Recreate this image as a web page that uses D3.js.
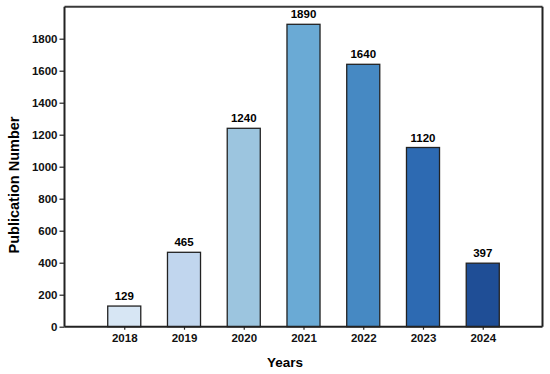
<!DOCTYPE html>
<html>
<head>
<meta charset="utf-8">
<script src="https://cdn.jsdelivr.net/npm/d3@7"></script>
<style>
  body { margin: 0; background: #fff; }
  svg { display: block; font-family: Arial, "Liberation Sans", sans-serif; }
</style>
</head>
<body>
<div id="graph"></div>
<script>
// publications per year
var years = ["2018", "2019", "2020", "2021", "2022", "2023", "2024"];
var counts = [129, 465, 1240, 1890, 1640, 1120, 397];
var barColors = ["#d7e6f4", "#c1d6ee", "#9cc5df", "#6aaad5", "#4689c3", "#2d6ab2", "#1f4e96"];
var yTicks = [0, 200, 400, 600, 800, 1000, 1200, 1400, 1600, 1800];

var width = 550;
var height = 374;
var plotLeft = 64.5, plotRight = 542.5, plotTop = 6.7, plotBottom = 326.7;

var svg = d3.select("#graph").
append("svg").
attr("width", width).
attr("height", height);

var xScale = d3.scalePoint().
domain(years).
range([plotLeft, plotRight]).
padding(1);

var yScale = d3.scaleLinear().
domain([0, 2000]).
range([plotBottom, plotTop]);

var barWidth = xScale.step() * 0.553;

svg.selectAll("rect.bar").
data(counts).
enter().
append("rect").
attr("class", "bar").
attr("x", function (d, i) {return xScale(years[i]) - barWidth / 2;}).
attr("y", function (d) {return yScale(d);}).
attr("width", barWidth).
attr("height", function (d) {return plotBottom - yScale(d);}).
attr("fill", function (d, i) {return barColors[i];}).
attr("stroke", "#222").
attr("stroke-width", 1.3);

svg.selectAll("text.value").
data(counts).
enter().
append("text").
attr("class", "value").
attr("x", function (d, i) {return xScale(years[i]);}).
attr("y", function (d) {return yScale(d) - 6;}).
style("text-anchor", "middle").
style("font-size", "11.5px").
style("font-weight", "bold").
text(function (d) {return d;});

// frame top and right
svg.append("line").
attr("x1", plotLeft).attr("x2", plotRight).
attr("y1", plotTop).attr("y2", plotTop).
attr("stroke", "#3a3a3a").attr("stroke-width", 2);

svg.append("line").
attr("x1", plotRight).attr("x2", plotRight).
attr("y1", plotTop).attr("y2", plotBottom).
attr("stroke", "#222").attr("stroke-width", 2);

var xAxis = d3.axisBottom(xScale).tickSize(3).tickPadding(4);
var yAxis = d3.axisLeft(yScale).tickValues(yTicks).tickFormat(d3.format("d")).tickSize(5).tickPadding(2);

var gx = svg.append("g").
attr("transform", "translate(0," + plotBottom + ")").
call(xAxis);
gx.select(".domain").attr("stroke", "#222").attr("stroke-width", 2).attr("d", "M" + plotLeft + ",0H" + plotRight);
gx.selectAll(".tick line").attr("stroke", "#222").attr("stroke-width", 1.2);
gx.selectAll("text").
style("font-size", "11.5px").
style("font-weight", "bold").
style("font-family", "Arial, 'Liberation Sans', sans-serif").
attr("fill", "#111");

var gy = svg.append("g").
attr("transform", "translate(" + plotLeft + ",0)").
call(yAxis);
gy.select(".domain").attr("stroke", "#222").attr("stroke-width", 2).attr("d", "M0," + plotTop + "V" + plotBottom);
gy.selectAll(".tick line").attr("stroke", "#222").attr("stroke-width", 1.2);
gy.selectAll("text").
style("font-size", "11.5px").
style("font-weight", "bold").
style("font-family", "Arial, 'Liberation Sans', sans-serif").
attr("fill", "#111");

svg.append("text").
attr("x", 285).
attr("y", 367).
style("text-anchor", "middle").
style("font-size", "13.5px").
style("font-weight", "bold").
text("Years");

svg.append("text").
attr("transform", "translate(19,185) rotate(-90)").
style("text-anchor", "middle").
style("font-size", "14.5px").
style("font-weight", "bold").
text("Publication Number");
</script>
</body>
</html>
